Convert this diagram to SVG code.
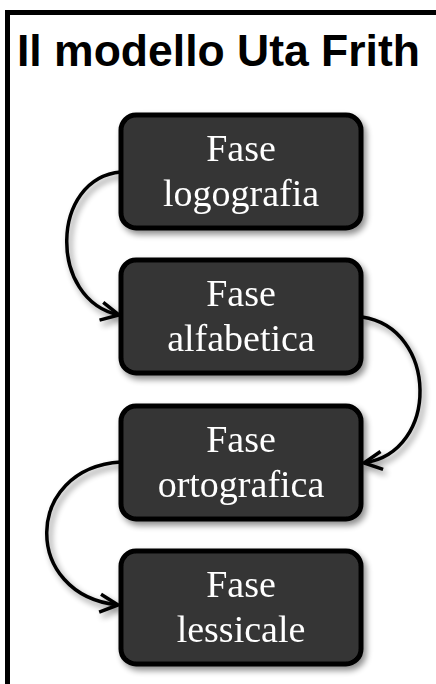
<svg xmlns="http://www.w3.org/2000/svg" width="436" height="684" viewBox="0 0 436 684">
<defs>
<style>
.box{fill:#363636;stroke:#000;stroke-width:5}
.lbl{font-family:"Liberation Serif","Times New Roman",serif;font-size:38px;fill:#fff;text-anchor:middle}
.conn{fill:none;stroke:#000;stroke-width:3.5}
.title{font-family:"Liberation Sans",Arial,sans-serif;font-weight:bold;font-size:44.5px;fill:#000}
</style>
<filter id="sh" x="-20%" y="-20%" width="150%" height="150%">
<feGaussianBlur in="SourceAlpha" stdDeviation="3"/>
<feOffset dx="3" dy="4" result="b"/>
<feComponentTransfer><feFuncA type="linear" slope="0.45"/></feComponentTransfer>
<feMerge><feMergeNode/><feMergeNode in="SourceGraphic"/></feMerge>
</filter>
<marker id="arr" viewBox="0 0 22 22" refX="20" refY="11" markerWidth="22" markerHeight="22" markerUnits="userSpaceOnUse" orient="auto">
<path d="M2,2 L20,11 L2,20" fill="none" stroke="#000" stroke-width="3.5"/>
</marker>
</defs>
<rect width="436" height="684" fill="#fff"/>
<path d="M7.5,684 V12.5 H436" fill="none" stroke="#000" stroke-width="5"/>
<text class="title" x="17" y="66">Il modello Uta Frith</text>
<g id="connectors" filter="url(#sh)">
<path class="conn" d="M121,172 C50,178 48,300 119,315" marker-end="url(#arr)"/>
<path class="conn" d="M362,317 C438,328 440,452 364,463" marker-end="url(#arr)"/>
<path class="conn" d="M121,462 C23,468 22,595 118,605" marker-end="url(#arr)"/>
</g>
<g id="n1" filter="url(#sh)">
<rect class="box" x="121" y="115" width="240" height="113" rx="15"/>
<text class="lbl" x="241" y="161">Fase</text>
<text class="lbl" x="241" y="206">logografia</text>
</g>
<g id="n2" filter="url(#sh)">
<rect class="box" x="121" y="260" width="240" height="113" rx="15"/>
<text class="lbl" x="241" y="306">Fase</text>
<text class="lbl" x="241" y="351">alfabetica</text>
</g>
<g id="n3" filter="url(#sh)">
<rect class="box" x="121" y="406" width="240" height="113" rx="15"/>
<text class="lbl" x="241" y="452">Fase</text>
<text class="lbl" x="241" y="497">ortografica</text>
</g>
<g id="n4" filter="url(#sh)">
<rect class="box" x="121" y="551" width="240" height="113" rx="15"/>
<text class="lbl" x="241" y="597">Fase</text>
<text class="lbl" x="241" y="642">lessicale</text>
</g>
</svg>
